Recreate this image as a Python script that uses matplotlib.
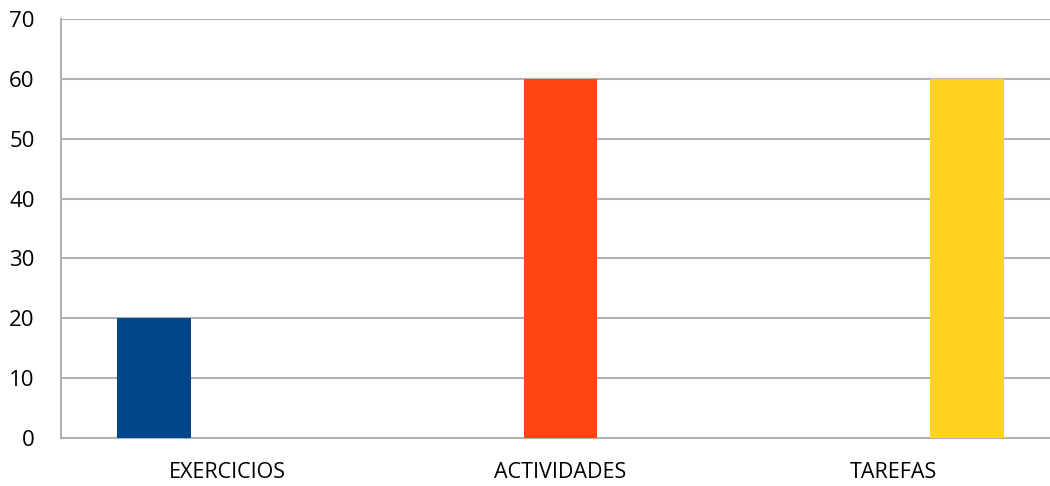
import matplotlib
matplotlib.use("Agg")
import matplotlib.pyplot as plt
import numpy as np

categories = ["EXERCICIOS", "ACTIVIDADES", "TAREFAS"]
series_names = ["EXERCICIOS", "ACTIVIDADES", "TAREFAS"]
series_values = [
    [20, 0, 0],
    [0, 60, 0],
    [0, 0, 60],
]
colors = ["#00468B", "#FF4512", "#FFD320"]
yticks = [0, 10, 20, 30, 40, 50, 60, 70]

plt.rcParams['font.family'] = ['Open Sans', 'DejaVu Sans']

fig = plt.figure(figsize=(10.5, 4.86), dpi=100)
ax = fig.add_axes([61/1050, 1-438/486, 999/1050, (438-19)/486])

x = np.arange(len(categories))
w = 0.221
for i, (name, vals) in enumerate(zip(series_names, series_values)):
    ax.bar(x + (i-1)*w, vals, width=w, color=colors[i], zorder=3, label=name)

ax.set_xlim(-0.5, len(categories)-0.5)
ax.set_ylim(0, 70)
ax.set_yticks(yticks)
ax.set_xticks(x)
ax.set_xticklabels(categories, fontsize=15.5)
ax.tick_params(axis='y', length=0, pad=19, labelsize=16)
ax.tick_params(axis='x', length=0, pad=17)
ax.yaxis.grid(True, color='#B3B3B3', linewidth=1.5, zorder=0)
for s in ['top', 'right']:
    ax.spines[s].set_visible(False)
for s in ['left', 'bottom']:
    ax.spines[s].set_color('#B3B3B3')
    ax.spines[s].set_linewidth(1.5)

fig.savefig("out.png", dpi=100)
